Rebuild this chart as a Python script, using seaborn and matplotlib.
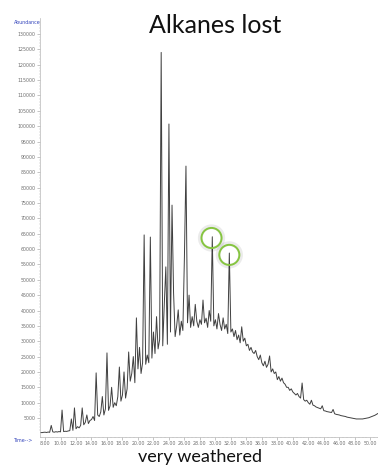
import matplotlib
matplotlib.use("Agg")
import matplotlib.pyplot as plt
import seaborn as sns
import pandas as pd

# ---- data ----
retention_time = [
    7.4, 7.6, 7.8,
    8.0, 8.2, 8.4, 8.6, 8.8,
    9.0, 9.2, 9.4, 9.6, 9.8,
    10.0, 10.2, 10.4, 10.6, 10.8,
    11.0, 11.2, 11.4, 11.6, 11.8,
    12.0, 12.2, 12.4, 12.6, 12.8,
    13.0, 13.2, 13.4, 13.6, 13.8,
    14.0, 14.2, 14.4, 14.6, 14.8,
    15.0, 15.2, 15.4, 15.6, 15.8,
    16.0, 16.2, 16.4, 16.6, 16.8,
    17.0, 17.2, 17.4, 17.6, 17.8,
    18.0, 18.2, 18.4, 18.6, 18.8,
    19.0, 19.2, 19.4, 19.6, 19.8,
    20.0, 20.2, 20.4, 20.6, 20.8,
    21.0, 21.2, 21.4, 21.6, 21.8,
    22.0, 22.2, 22.4, 22.6, 22.8,
    23.0, 23.2, 23.4, 23.6, 23.8,
    24.0, 24.2, 24.4, 24.6, 24.8,
    25.0, 25.2, 25.4, 25.6, 25.8,
    26.0, 26.2, 26.4, 26.6, 26.8,
    27.0, 27.2, 27.4, 27.6, 27.8,
    28.0, 28.2, 28.4, 28.6, 28.8,
    29.0, 29.2, 29.4, 29.6, 29.8,
    30.0, 30.2, 30.4, 30.6, 30.8,
    31.0, 31.2, 31.4, 31.6, 31.8,
    32.0, 32.2, 32.4, 32.6, 32.8,
    33.0, 33.2, 33.4, 33.6, 33.8,
    34.0, 34.2, 34.4, 34.6, 34.8,
    35.0, 35.2, 35.4, 35.6, 35.8,
    36.0, 36.2, 36.4, 36.6, 36.8,
    37.0, 37.2, 37.4, 37.6, 37.8,
    38.0, 38.2, 38.4, 38.6, 38.8,
    39.0, 39.2, 39.4, 39.6, 39.8,
    40.0, 40.2, 40.4, 40.6, 40.8,
    41.0, 41.2, 41.4, 41.6, 41.8,
    42.0, 42.2, 42.4, 42.6, 42.8,
    43.0, 43.2, 43.4, 43.6, 43.8,
    44.0, 44.2, 44.4, 44.6, 44.8,
    45.0, 45.2, 45.4, 45.6, 45.8,
    46.0, 46.2, 46.4, 46.6, 46.8,
    47.0, 47.2, 47.4, 47.6, 47.8,
    48.0, 48.2, 48.4, 48.6, 48.8,
    49.0, 49.2, 49.4, 49.6, 49.8,
    50.0, 50.2, 50.4, 50.6, 50.8,
    51.0,
]

abundance = [
    300, 250, 350,
    400, 300, 450, 350, 2600,
    500, 400, 550, 450, 600,
    500, 7600, 600, 700, 650,
    800, 900, 4700, 1000, 8300,
    1500, 2200, 1800, 2600, 8300,
    2800, 3600, 6000, 3200, 4200,
    4500, 5500, 4200, 19700, 6000,
    5500, 7000, 12000, 6000, 8000,
    26200, 7500, 9000, 15000, 8500,
    10000, 9000, 12000, 21600, 10500,
    12500, 20000, 11500, 14500, 26500,
    17000, 19500, 25000, 16500, 37600,
    21000, 28000, 19500, 23000, 64600,
    22500, 25500, 23000, 63900, 24500,
    33000, 26000, 38000, 27500, 30500,
    124000, 28500, 42000, 54200, 29000,
    100700, 33000, 74300, 45700, 31500,
    35000, 40200, 32000, 36500, 33500,
    57400, 87000, 36000, 45000, 34500,
    38000, 35000, 42000, 36500, 34500,
    37000, 35500, 43400, 36000, 37500,
    34500, 40000, 36500, 64000, 35000,
    37000, 34000, 39000, 35500, 33500,
    37600, 34000, 35500, 32500, 58700,
    33000, 34000, 31500, 33500, 30500,
    32000, 29500, 34700, 30000, 31000,
    28500, 29000, 27000, 28000, 26500,
    26000, 27000, 25000, 24000, 25500,
    23000, 22000, 23500, 21500, 22500,
    25200, 20000, 21000, 19500, 20000,
    17500, 18500, 17000, 18000, 16500,
    16000, 15000, 15000, 14000, 14500,
    13500, 13000, 12500, 13000, 12000,
    11500, 16400, 11000, 10500, 10800,
    10000, 9500, 10800, 9200, 9000,
    8600, 8400, 8200, 8000, 9000,
    7400, 7300, 7100, 7000, 6900,
    6800, 7800, 6400, 6200, 6100,
    6000, 5800, 5700, 5600, 5500,
    5300, 5200, 5100, 5000, 4900,
    4800, 4700, 4700, 4700, 4700,
    4700, 4800, 4900, 5000, 5100,
    5300, 5500, 5700, 5900, 6200,
    6500,
]

circled_time = [29.5, 31.8]
circled_abundance = [63600, 58100]

x_tick_values = [8, 10, 12, 14, 16, 18, 20, 22, 24, 26, 28, 30, 32, 34, 36,
                 38, 40, 42, 44, 46, 48, 50]
y_tick_values = [5000, 10000, 15000, 20000, 25000, 30000, 35000, 40000,
                 45000, 50000, 55000, 60000, 65000, 70000, 75000, 80000,
                 85000, 90000, 95000, 100000, 105000, 110000, 115000,
                 120000, 125000, 130000]

title_text = "Alkanes lost"
caption_text = "very weathered"

# ---- drawing ----
sns.set_theme(style="white")
plt.rcParams["font.family"] = ["Lato", "DejaVu Sans"]

W, H = 378, 466
fig = plt.figure(figsize=(W / 100, H / 100), dpi=100)
fig.patch.set_facecolor("white")
ax = fig.add_axes([40 / W, 29 / H, 338 / W, 419 / H])
ax.set_facecolor("white")

df = pd.DataFrame({"time": retention_time, "abundance": abundance})
sns.lineplot(data=df, x="time", y="abundance", ax=ax, color="#404040",
             linewidth=0.7, estimator=None, sort=False)

circ = pd.DataFrame({"time": circled_time, "abundance": circled_abundance})
# soft halo
sns.scatterplot(data=circ, x="time", y="abundance", ax=ax, s=260,
                facecolors="none", edgecolor="#000000", linewidth=3.5,
                alpha=0.08, zorder=4, legend=False)
sns.scatterplot(data=circ, x="time", y="abundance", ax=ax, s=210,
                facecolors="none", edgecolor="#86c540", linewidth=1.4,
                zorder=5, legend=False)

ax.set_xlim(7.35, 51.0)
ax.set_ylim(-1170, 135200)
ax.set_xlabel("")
ax.set_ylabel("")

ax.set_xticks(x_tick_values)
ax.set_xticklabels([f"{v:.2f}" for v in x_tick_values])
ax.set_yticks(y_tick_values)
ax.set_yticklabels([str(v) for v in y_tick_values])
ax.set_xticks([v / 2 for v in range(15, 103)], minor=True)
ax.set_yticks(list(range(1000, 135000, 1000)), minor=True)

ax.tick_params(axis="both", which="major", labelsize=3.4, labelcolor="#6f6f6f",
               color="#9a9a9a", length=2, width=0.4, pad=1.2, direction="out",
               bottom=True, left=True)
ax.tick_params(axis="both", which="minor", color="#b0b0b0", length=1,
               width=0.3, direction="out", bottom=True, left=True)
for lab in ax.get_xticklabels() + ax.get_yticklabels():
    lab.set_family("DejaVu Sans")

for side in ["top", "right"]:
    ax.spines[side].set_visible(False)
for side in ["left", "bottom"]:
    ax.spines[side].set_color("#b8b8b8")
    ax.spines[side].set_linewidth(0.5)

fig.text(14 / W, 1 - 22 / H, "Abundance", fontsize=3.4, color="#3344bb",
         family="DejaVu Sans", ha="left", va="center")
fig.text(14 / W, 1 - 441 / H, "Time-->", fontsize=3.4, color="#3344bb",
         family="DejaVu Sans", ha="left", va="center")

fig.text(215 / W, 1 - 33 / H, title_text, fontsize=18, color="#111111",
         ha="center", va="baseline")
fig.text(200 / W, 1 - 462 / H, caption_text, fontsize=13, color="#111111",
         ha="center", va="baseline")

fig.savefig("out.png", dpi=100, facecolor="white")
